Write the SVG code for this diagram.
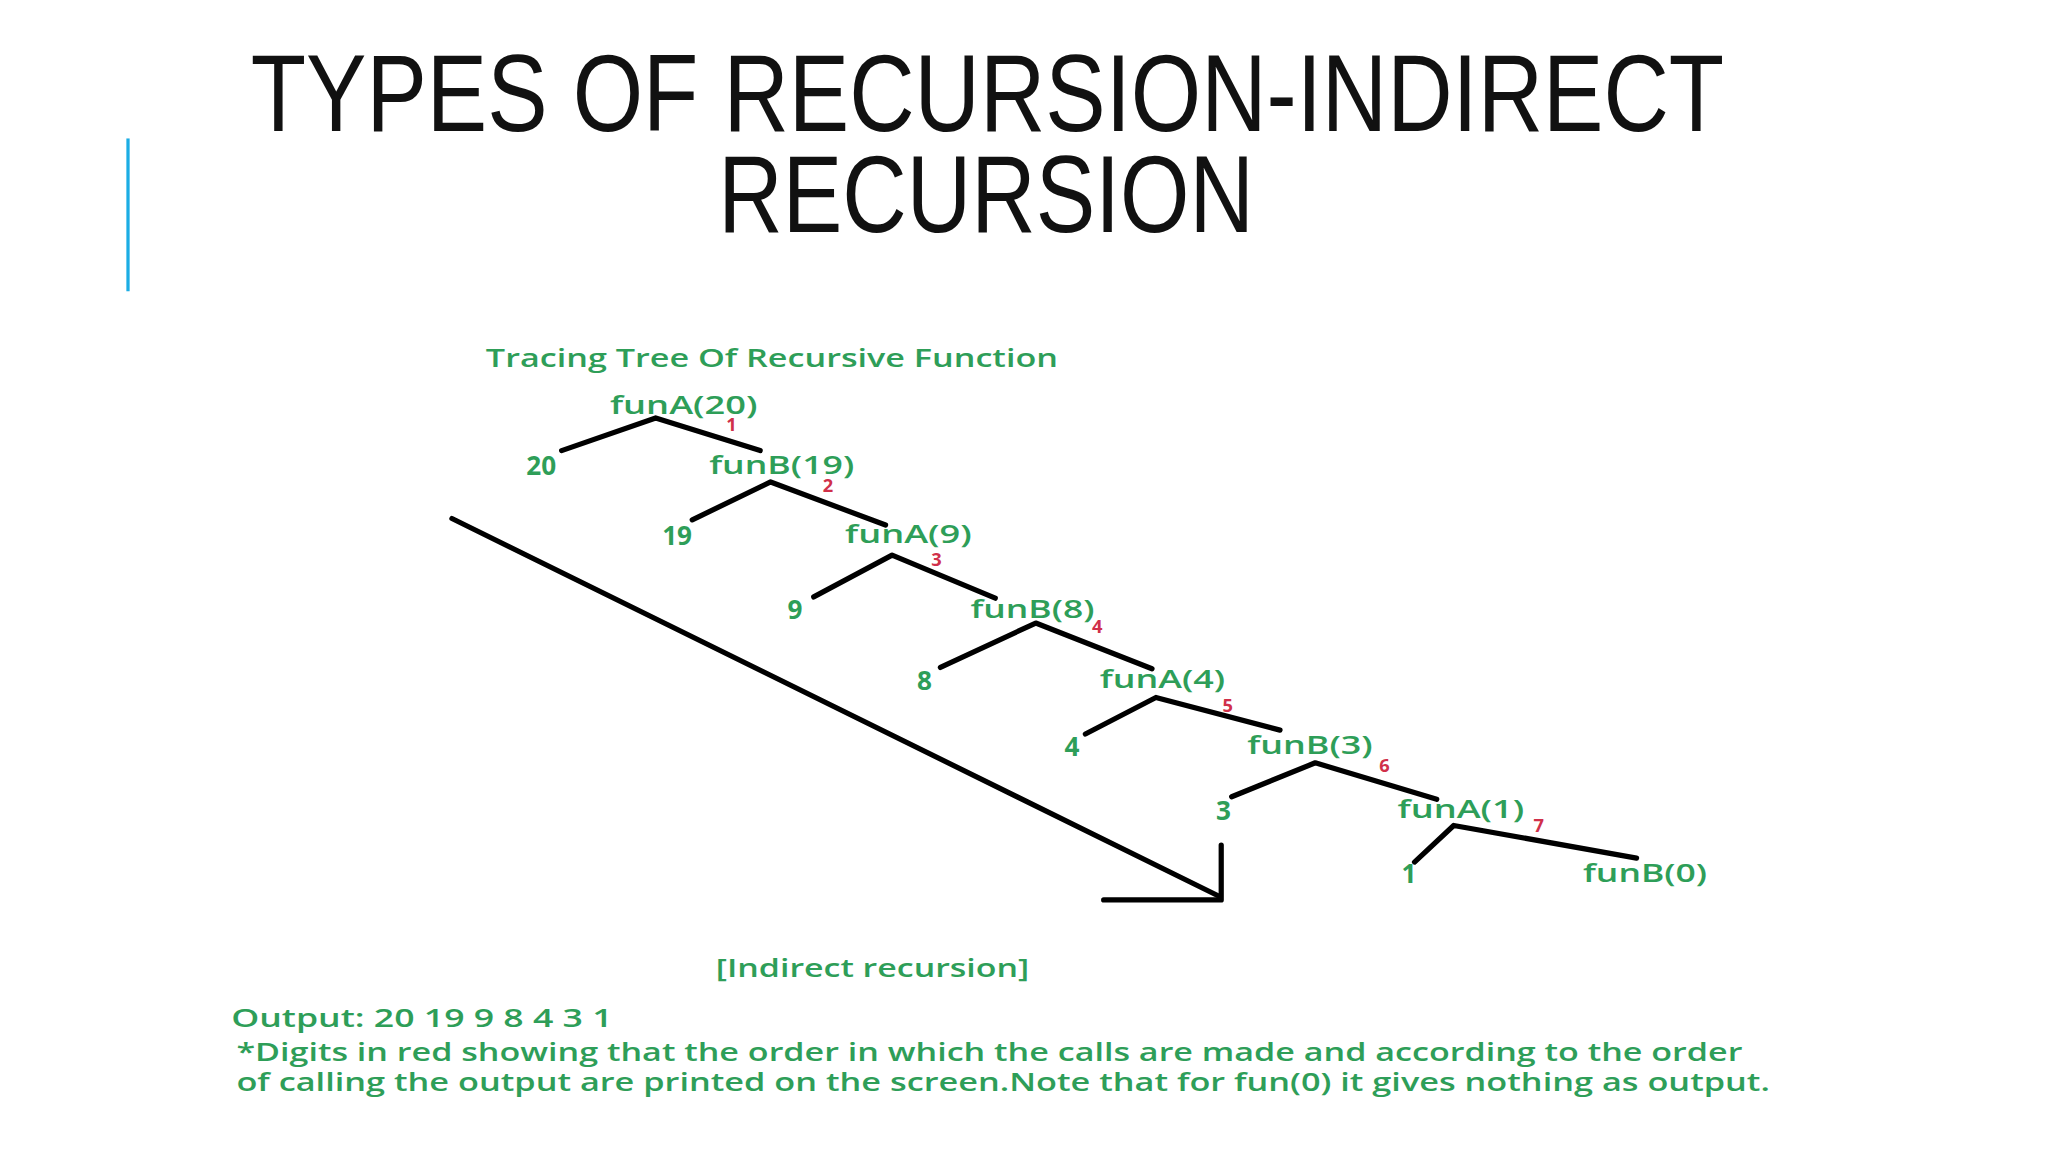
<svg xmlns="http://www.w3.org/2000/svg" width="2048" height="1152" viewBox="0 0 2048 1152">
<style>
.t{font-family:"Liberation Sans",Arial,sans-serif;font-size:84px;fill:#111}
.g{font-family:"Open Sans","Noto Sans",sans-serif;font-weight:600;fill:#2e9e58;font-size:19px}
.n{font-weight:700;font-size:20px}
.r{font-family:"Open Sans","Noto Sans",sans-serif;font-weight:700;fill:#d0304a;font-size:14px}
.l{stroke:#000;stroke-width:4;fill:none;stroke-linecap:round;stroke-linejoin:round}
</style>
<rect width="2048" height="1152" fill="#fff"/>
<g transform="scale(1.30612)">
<g id="title">
<text class="t" x="192" y="100" textLength="1128" lengthAdjust="spacingAndGlyphs">TYPES OF RECURSION-INDIRECT</text>
<text class="t" x="550" y="178" textLength="410" lengthAdjust="spacingAndGlyphs">RECURSION</text>
<line x1="98" y1="106" x2="98" y2="223" stroke="#1CADE4" stroke-width="2.5"/>
</g>
<text class="g" x="372" y="281" textLength="438" lengthAdjust="spacingAndGlyphs">Tracing Tree Of Recursive Function</text>
<g id="connectors">
<polyline class="l" points="430,345 502,320 582,345"/>
<polyline class="l" points="530,398 590,369 678,402"/>
<polyline class="l" points="623,457 683,425 762,458"/>
<polyline class="l" points="720,511 793,477 882,512"/>
<polyline class="l" points="831,562 885,534 980,559"/>
<polyline class="l" points="943,610 1007,584 1100,612"/>
<polyline class="l" points="1083,660 1113,632 1253,657"/>
<line class="l" x1="346" y1="397" x2="933" y2="686"/>
<polyline class="l" points="935,647 935,689 845,689"/>
</g>
<g id="n1"><text class="g" x="467" y="317" textLength="113" lengthAdjust="spacingAndGlyphs">funA(20)</text><text class="r" x="556" y="330">1</text></g>
<g id="n20"><text class="g n" x="403" y="364">20</text></g>
<g id="n2"><text class="g" x="543" y="363" textLength="111" lengthAdjust="spacingAndGlyphs">funB(19)</text><text class="r" x="630" y="377">2</text></g>
<g id="n19"><text class="g n" x="507" y="417">19</text></g>
<g id="n3"><text class="g" x="647" y="416" textLength="97" lengthAdjust="spacingAndGlyphs">funA(9)</text><text class="r" x="713" y="433">3</text></g>
<g id="n9"><text class="g n" x="603" y="474">9</text></g>
<g id="n4"><text class="g" x="743" y="473" textLength="95" lengthAdjust="spacingAndGlyphs">funB(8)</text><text class="r" x="836" y="485">4</text></g>
<g id="n8"><text class="g n" x="702" y="528">8</text></g>
<g id="n5"><text class="g" x="842" y="527" textLength="96" lengthAdjust="spacingAndGlyphs">funA(4)</text><text class="r" x="936" y="545">5</text></g>
<g id="n4v"><text class="g n" x="815" y="579">4</text></g>
<g id="n6"><text class="g" x="955" y="577" textLength="96" lengthAdjust="spacingAndGlyphs">funB(3)</text><text class="r" x="1056" y="591">6</text></g>
<g id="n3v"><text class="g n" x="931" y="628">3</text></g>
<g id="n7"><text class="g" x="1070" y="626" textLength="97" lengthAdjust="spacingAndGlyphs">funA(1)</text><text class="r" x="1174" y="637">7</text></g>
<g id="n1v"><text class="g n" x="1073" y="676">1</text></g>
<g id="n0"><text class="g" x="1212" y="675" textLength="95" lengthAdjust="spacingAndGlyphs">funB(0)</text></g>
<text class="g" x="548" y="748" textLength="240" lengthAdjust="spacingAndGlyphs">[Indirect recursion]</text>
<text class="g" x="177" y="786" textLength="292" lengthAdjust="spacingAndGlyphs">Output: 20 19 9 8 4 3 1</text>
<text class="g" x="181" y="812" font-size="18" textLength="1153" lengthAdjust="spacingAndGlyphs">*Digits in red showing that the order in which the calls are made and according to the order</text>
<text class="g" x="181" y="835" font-size="18" textLength="1174" lengthAdjust="spacingAndGlyphs">of calling the output are printed on the screen.Note that for fun(0) it gives nothing as output.</text>
</g>
</svg>
